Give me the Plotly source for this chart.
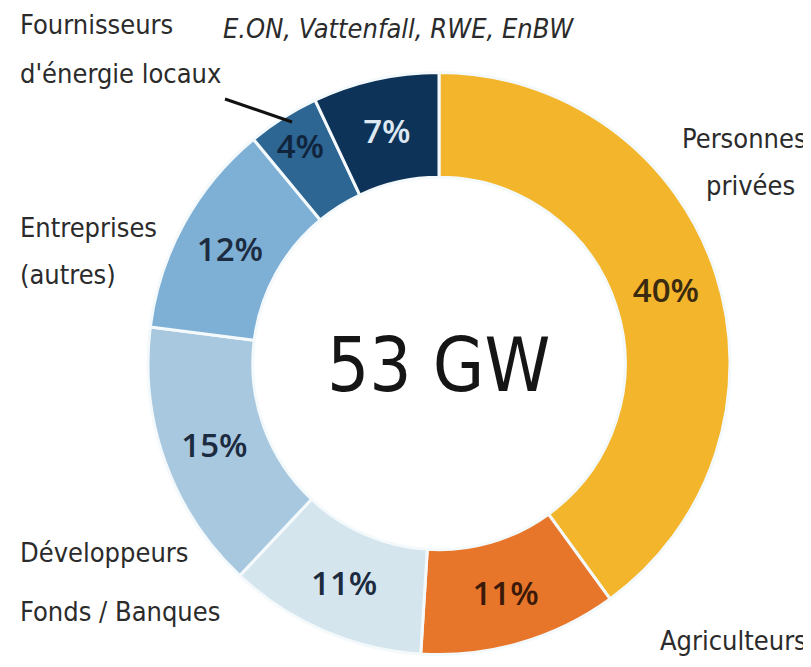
import plotly.graph_objects as go

# ---- data ----
categories = ["Personnes privées", "Agriculteurs", "Fonds / Banques", "Développeurs",
              "Entreprises (autres)", "Fournisseurs d'énergie locaux", "E.ON, Vattenfall, RWE, EnBW"]
shares = [40, 11, 11, 15, 12, 4, 7]
total_label = "53 GW"

colors = ["#F3B52B", "#E8762A", "#D4E5EE", "#A8C8DF", "#7EAFD5", "#2D6593", "#0E3358"]
text_colors = ["#3A2A10", "#3B1A0A", "#1C2B40", "#1C2B40", "#1C2B40", "#10243C", "#DDE8F2"]

W, H = 811, 667
OFF = 8  # page body margin
cx, cy, R = 439 - OFF, 363.5 - OFF, 291

fig = go.Figure(go.Pie(
    labels=categories,
    values=shares,
    sort=False,
    direction="clockwise",
    rotation=0,
    hole=0.64,
    marker=dict(colors=colors, line=dict(color="#F4F9FC", width=3)),
    texttemplate="%{value}%",
    textposition="inside",
    insidetextorientation="horizontal",
    textfont=dict(family="Open Sans, DejaVu Sans", size=33, color=text_colors, weight=600),
    showlegend=False,
    hoverinfo="label+percent",
    domain=dict(x=[(cx - R) / W, (cx + R) / W], y=[(H - cy - R) / H, (H - cy + R) / H]),
))

def px(x, y):
    return (x - OFF) / W, 1 - (y - OFF) / H

label_font = dict(family="DejaVu Sans Condensed, DejaVu Sans", size=27, color="#2B2B2B")
annots = [
    ("Fournisseurs", 18, 25, "left", False),
    ("d'énergie locaux", 18, 73, "left", False),
    ("E.ON, Vattenfall, RWE, EnBW", 221, 29, "left", True),
    ("Entreprises", 18, 228, "left", False),
    ("(autres)", 18, 274, "left", False),
    ("Personnes", 809, 138, "right", False),
    ("privées", 797, 185, "right", False),
    ("Développeurs", 18, 552, "left", False),
    ("Fonds / Banques", 18, 611, "left", False),
    ("Agriculteurs", 809, 640, "right", False),
]
for txt, x, y, anchor, ital in annots:
    xp, yp = px(x, y)
    t = f"<i>{txt}</i>" if ital else txt
    fig.add_annotation(text=t, x=xp, y=yp, xref="paper", yref="paper",
                       xanchor=anchor, yanchor="middle", showarrow=False, font=label_font)

cxp, cyp = px(439, 365)
fig.add_annotation(text=total_label, x=cxp, y=cyp, xref="paper", yref="paper",
                   xanchor="center", yanchor="middle", showarrow=False,
                   font=dict(family="DejaVu Sans Condensed, DejaVu Sans", size=74, color="#151515"))

x0, y0 = px(225, 99)
x1, y1 = px(292, 122)
fig.add_shape(type="line", xref="paper", yref="paper", x0=x0, y0=y0, x1=x1, y1=y1,
              line=dict(color="#111111", width=3))

fig.update_layout(
    width=W, height=H,
    margin=dict(l=0, r=0, t=0, b=0),
    paper_bgcolor="white", plot_bgcolor="white",
    uniformtext=dict(minsize=33, mode="show"),
)

fig.write_html("out.html")
